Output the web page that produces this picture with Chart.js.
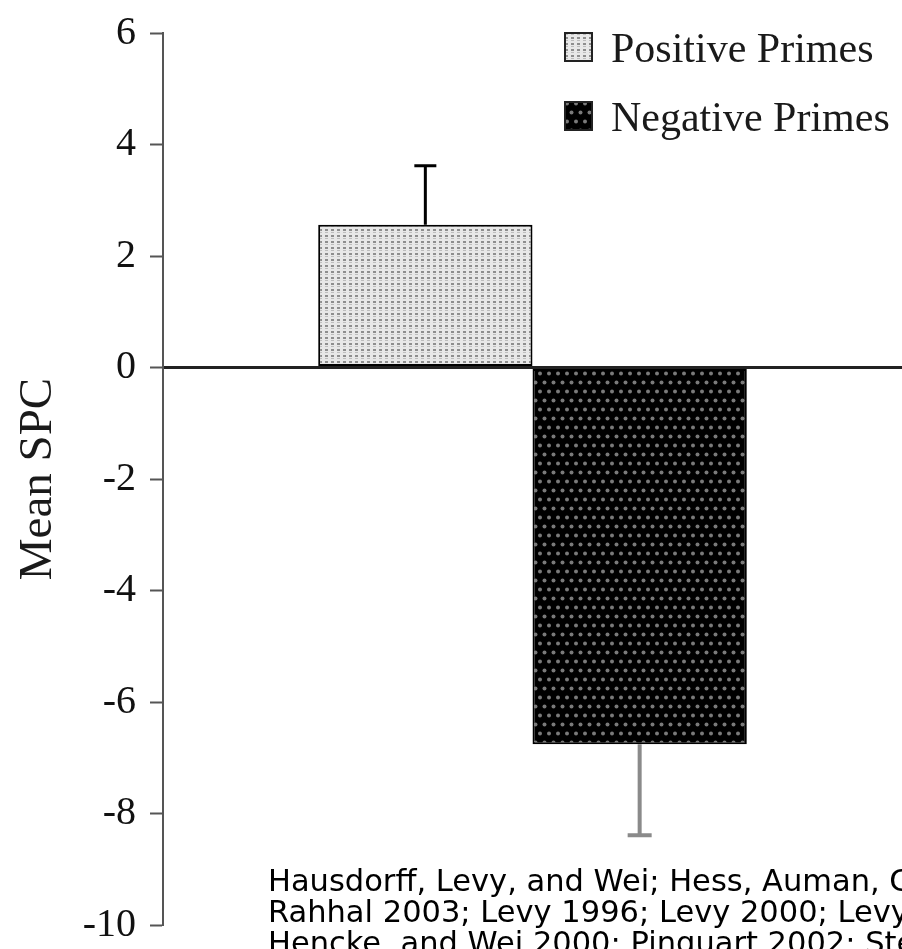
<!DOCTYPE html>
<html lang="en">
<head>
    <meta charset="UTF-8">
    <title>Mean SPC by prime type</title>
    <script src="https://cdn.jsdelivr.net/npm/chart.js"></script>
    <style>
        body { margin: 0; background: #fff; overflow: hidden; }
        #wrap { position: relative; width: 902px; height: 949px; overflow: hidden; }
        #note {
            position: absolute; left: 268px; top: 865px;
            font-family: "DejaVu Sans", sans-serif; font-size: 30.5px; line-height: 31px;
            color: #000; white-space: nowrap;
        }
    </style>
</head>
<body>

<div id="wrap">
    <canvas id="spcChart" width="902" height="949"></canvas>
    <div id="note">
        Hausdorff, Levy, and Wei; Hess, Auman, Colcombe, and<br>
        Rahhal 2003; Levy 1996; Levy 2000; Levy, Hausdorff,<br>
        Hencke, and Wei 2000; Pinquart 2002; Stein
    </div>
</div>

<script>
    // valeurs
    const seriesNames = ['Positive Primes', 'Negative Primes'];
    const meanSPC = [2.56, -6.76];
    const errorEnds = [3.62, -8.39];
    const yTicks = [6, 4, 2, 0, -2, -4, -6, -8, -10];

    // motifs de remplissage (pointillés)
    function lightDots() {
        const c = document.createElement('canvas');
        c.width = 6; c.height = 6;
        const g = c.getContext('2d');
        g.fillStyle = '#e8e8e8';
        g.fillRect(0, 0, 6, 6);
        g.fillStyle = '#8e8e8e';
        g.fillRect(1, 1, 3, 2);
        g.fillStyle = '#bdbdbd';
        g.fillRect(1, 4, 3, 1);
        return g.createPattern(c, 'repeat');
    }
    function darkDots() {
        const c = document.createElement('canvas');
        c.width = 18; c.height = 18;
        const g = c.getContext('2d');
        g.fillStyle = '#000';
        g.fillRect(0, 0, 18, 18);
        g.fillStyle = '#7a7a7a';
        [[4.5, 4.5], [13.5, 4.5], [0, 13.5], [9, 13.5], [18, 13.5]].forEach(([x, y]) => {
            g.beginPath();
            g.arc(x, y, 2, 0, Math.PI * 2);
            g.fill();
        });
        return g.createPattern(c, 'repeat');
    }
    const fills = [lightDots(), darkDots()];
    const errColors = ['#000', '#8a8a8a'];
    const errWidths = [3, 4];
    const capWidths = [22, 24];

    // barres d'erreur
    const errorBars = {
        id: 'errorBars',
        afterDatasetsDraw(chart) {
            const ctx = chart.ctx;
            const y = chart.scales.y;
            chart.data.datasets.forEach((ds, i) => {
                const bar = chart.getDatasetMeta(i).data[0];
                const yEnd = y.getPixelForValue(errorEnds[i]);
                ctx.save();
                ctx.strokeStyle = errColors[i];
                ctx.lineWidth = errWidths[i];
                ctx.beginPath();
                ctx.moveTo(bar.x, bar.y);
                ctx.lineTo(bar.x, yEnd);
                ctx.moveTo(bar.x - capWidths[i] / 2, yEnd);
                ctx.lineTo(bar.x + capWidths[i] / 2, yEnd);
                ctx.stroke();
                ctx.restore();
            });
        }
    };

    // légende en haut à droite
    const cornerLegend = {
        id: 'cornerLegend',
        afterDraw(chart) {
            const ctx = chart.ctx;
            ctx.save();
            ctx.font = '42px "Liberation Serif", serif';
            ctx.textBaseline = 'alphabetic';
            const rows = [47, 116];
            seriesNames.forEach((name, i) => {
                const cy = rows[i];
                ctx.fillStyle = fills[i];
                ctx.fillRect(565, cy - 14, 27, 28);
                ctx.strokeStyle = '#222';
                ctx.lineWidth = 2;
                ctx.strokeRect(565, cy - 14, 27, 28);
                ctx.fillStyle = '#1a1a1a';
                ctx.fillText(name, 611, cy + 15);
            });
            ctx.restore();
        }
    };

    const ctx = document.getElementById('spcChart').getContext('2d');
    new Chart(ctx, {
        type: 'bar',
        data: {
            labels: [''],
            datasets: seriesNames.map((name, i) => ({
                label: name,
                data: [meanSPC[i]],
                backgroundColor: fills[i],
                borderColor: '#000',
                borderWidth: 2,
                borderSkipped: false
            }))
        },
        options: {
            responsive: false,
            animation: false,
            categoryPercentage: 0.58,
            barPercentage: 1,
            layout: { padding: { top: 33, bottom: 24, left: 0, right: 0 } },
            plugins: {
                legend: { display: false },
                tooltip: { enabled: false }
            },
            scales: {
                x: { display: false },
                y: {
                    min: -10,
                    max: 6,
                    afterBuildTicks(scale) {
                        scale.ticks = yTicks.map(v => ({ value: v }));
                    },
                    afterFit(scale) {
                        scale.width = 163;
                        scale.paddingTop = 0;
                        scale.paddingBottom = 0;
                    },
                    ticks: {
                        color: '#111',
                        padding: 14,
                        font: { family: '"Liberation Serif", serif', size: 40, lineHeight: 1 }
                    },
                    grid: {
                        color: c => c.tick && c.tick.value === 0 ? '#222' : 'rgba(0,0,0,0)',
                        lineWidth: c => c.tick && c.tick.value === 0 ? 3 : 1,
                        tickColor: '#555',
                        tickWidth: 2,
                        tickLength: 13
                    },
                    border: { display: true, color: '#555', width: 2 },
                    title: {
                        display: true,
                        text: 'Mean SPC',
                        color: '#1a1a1a',
                        padding: { top: 10, bottom: 0 },
                        font: { family: '"Liberation Serif", serif', size: 47 }
                    }
                }
            }
        },
        plugins: [errorBars, cornerLegend]
    });
</script>

</body>
</html>
